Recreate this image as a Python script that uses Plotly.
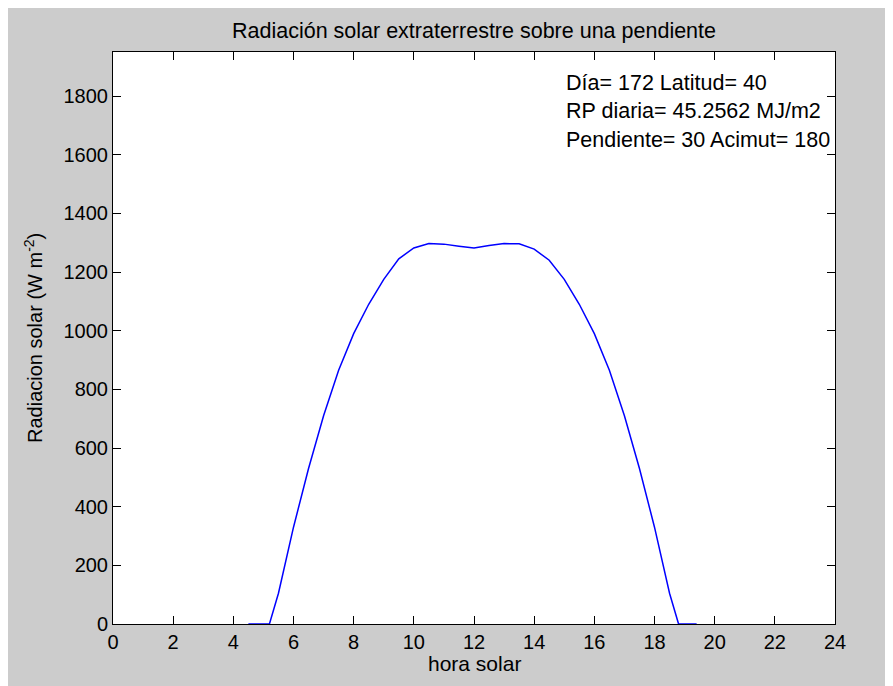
import plotly.graph_objects as go

# Data
hora = [4.5, 5.0, 5.2, 5.5, 6.0, 6.5, 7.0, 7.5, 8.0, 8.5, 9.0, 9.5, 10.0, 10.5,
        11.0, 11.5, 12.0, 12.5, 13.0, 13.5, 14.0, 14.5, 15.0, 15.5, 16.0, 16.5,
        17.0, 17.5, 18.0, 18.5, 18.8, 19.4]
radiacion = [0, 0, 0, 105, 330, 530, 710, 865, 990, 1090, 1175, 1245, 1282, 1297,
             1295, 1288, 1282, 1290, 1297, 1296, 1278, 1240, 1175, 1090, 990, 865,
             710, 530, 330, 105, 0, 0]

x_ticks = list(range(0, 25, 2))
y_ticks = list(range(0, 1801, 200))

info_lines = ["Día= 172 Latitud= 40",
              "RP diaria= 45.2562 MJ/m2",
              "Pendiente= 30 Acimut= 180"]
info_x = 15
info_y = [1845, 1748, 1650]

FONT = "Arial, Liberation Sans, sans-serif"
W, H = 893, 686
OFF = 8  # page body margin
# plot area in figure coords
L, T = 113 - OFF, 52 - OFF
R, B = W - (835 - OFF), H - (624 - OFF)
pw, ph = W - L - R, H - T - B

def px_x(px):
    return (px - OFF - L) / pw

def px_y(py):
    return (H - B - (py - OFF)) / ph

fig = go.Figure()
fig.add_trace(go.Scatter(x=hora, y=radiacion, mode="lines",
                         line=dict(color="#0000ff", width=1.5),
                         cliponaxis=False,
                         showlegend=False, hoverinfo="x+y"))

axis_common = dict(showline=True, linecolor="black", linewidth=1, mirror="ticks",
                   ticks="inside", ticklen=8, tickcolor="black", tickwidth=1,
                   showgrid=False, zeroline=False, layer="below traces",
                   tickfont=dict(family=FONT, size=20, color="black"))

fig.update_xaxes(range=[0, 24], tickvals=x_ticks,
                 ticktext=[str(v) for v in x_ticks], **axis_common)
fig.update_yaxes(range=[0, 1950], tickvals=y_ticks,
                 ticktext=[str(v) for v in y_ticks], **axis_common)

annotations = []
for txt, yv in zip(info_lines, info_y):
    annotations.append(dict(x=info_x, y=yv, xref="x", yref="y", text=txt,
                            showarrow=False, xanchor="left", yanchor="middle",
                            font=dict(family=FONT, size=21.5, color="black")))
annotations.append(dict(x=0.5, y=px_y(663), xref="paper", yref="paper",
                        text="hora solar", showarrow=False, xanchor="center",
                        yanchor="middle",
                        font=dict(family=FONT, size=21, color="black")))
annotations.append(dict(x=px_x(33), y=0.5, xref="paper", yref="paper",
                        text="Radiacion solar (W m<sup>-2</sup>)", showarrow=False,
                        textangle=-90, xanchor="center", yanchor="middle",
                        font=dict(family=FONT, size=20, color="black")))

fig.update_layout(
    width=W, height=H,
    margin=dict(l=L, r=R, t=T, b=B, autoexpand=False),
    paper_bgcolor="#cccccc", plot_bgcolor="white",
    title=dict(text="Radiación solar extraterrestre sobre una pendiente",
               x=0.5, xref="paper", y=1 - (30 - OFF) / H, yref="container",
               xanchor="center", yanchor="middle",
               font=dict(family=FONT, size=21.5, color="black")),
    annotations=annotations,
)

fig.write_html("out.html")
